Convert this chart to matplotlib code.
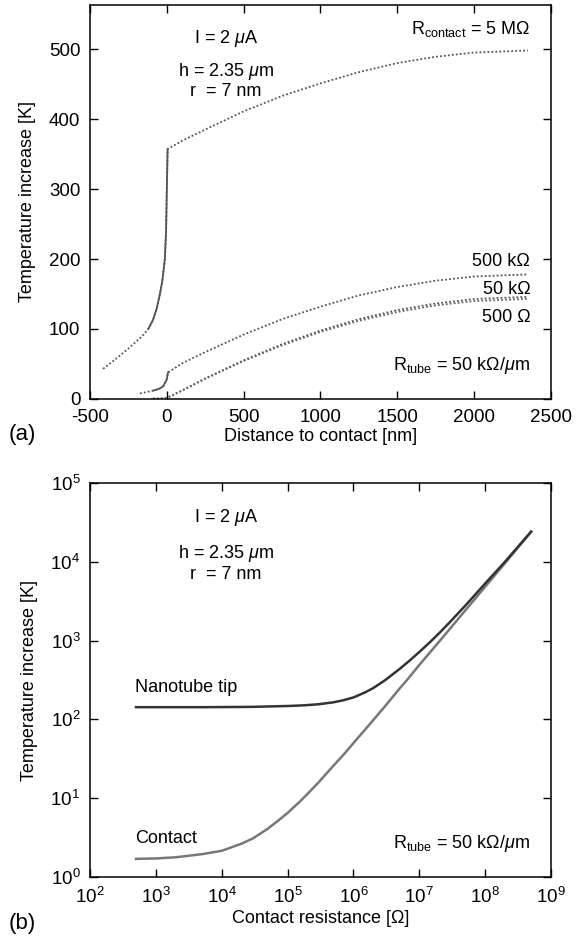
import matplotlib
matplotlib.use("Agg")
import matplotlib.pyplot as plt
from matplotlib.ticker import LogLocator, NullLocator, MultipleLocator

plt.rcParams['font.family'] = ['Liberation Sans', 'DejaVu Sans']
plt.rcParams['mathtext.fontset'] = 'custom'
plt.rcParams['mathtext.rm'] = 'Liberation Sans'
plt.rcParams['mathtext.it'] = 'Liberation Sans:italic'
plt.rcParams['axes.unicode_minus'] = False
plt.rcParams['font.size'] = 13

# --- panel (a): temperature profile along the tube ---
x_5M = [-415, -350, -300, -250, -200, -160, -121, -90, -65, -45, -30, -13, -5, 0, 5,
        100, 250, 500, 750, 1000, 1250, 1500, 1750, 2000, 2350]
T_5M = [43, 54, 63, 72, 82, 90, 100, 113, 130, 150, 168, 200, 240, 300, 357,
        369, 385, 411, 433, 451, 467, 480, 489, 495, 498]

x_500k = [-175, -140, -89, -50, -24, -2, 8, 100, 250, 500, 750, 1000, 1250, 1500, 1750, 2000, 2350]
T_500k = [8, 9.5, 12, 14.5, 18, 27, 38, 51, 67, 92, 114, 132, 148, 160, 169, 175, 178]

x_50k = [-90, -50, -20, 0, 100, 250, 500, 750, 1000, 1250, 1500, 1750, 2000, 2350]
T_50k = [0.5, 0.7, 1, 1.5, 12.2, 29.4, 55.3, 78.3, 97.8, 114, 127, 136.5, 142.8, 146]
T_500 = [0.5, 0.7, 1, 1.5, 12, 28.8, 54.2, 76.7, 95.8, 111.7, 124.3, 133.7, 139.9, 143]

# --- panel (b): temperature vs contact resistance ---
R_contact = [5e2, 1e3, 2e3, 5e3, 1e4, 2e4, 3e4, 5e4, 7e4, 1e5, 1.5e5, 2e5, 3e5, 5e5, 7e5,
             1e6, 1.5e6, 2e6, 3e6, 5e6, 7e6, 1e7, 1.5e7, 2e7, 3e7, 5e7, 7e7,
             1e8, 2e8, 3e8, 5e8]
T_contact = [1.7, 1.72, 1.78, 1.95, 2.15, 2.65, 3.1, 4.1, 5.1, 6.5, 8.9, 11.3, 16.1, 26, 35.3,
             50, 74, 98, 146, 245, 340, 490, 730, 970, 1450, 2420, 3380,
             4820, 9600, 14400, 24000]
T_tip = [143, 143, 143, 143, 143.5, 144, 144.5, 146, 147, 148, 150, 152, 156, 165, 175,
         190, 220, 250, 313, 435, 550, 716, 980, 1240, 1760, 2780, 3800,
         5300, 10000, 14800, 24200]

fig = plt.figure(figsize=(5.86, 9.39), dpi=100)
ax1 = fig.add_axes([0.1536, 0.5751, 0.7866, 0.4196])
ax2 = fig.add_axes([0.1536, 0.066, 0.7866, 0.4196])

dot = (0, (1, 1.2))
ax1.plot(x_5M, T_5M, color='#555555', lw=1.3, ls=dot)
ax1.plot(x_5M[6:15], T_5M[6:15], color='#555555', lw=1.3)
ax1.plot(x_500k, T_500k, color='#555555', lw=1.3, ls=dot)
ax1.plot(x_500k[2:7], T_500k[2:7], color='#555555', lw=1.3)
ax1.plot(x_50k, T_50k, color='#555555', lw=1.3, ls=dot)
ax1.plot(x_50k, T_500, color='#666666', lw=1.3, ls=dot)

ax1.set_xlim(-500, 2500)
ax1.set_ylim(0, 563)
ax1.xaxis.set_major_locator(MultipleLocator(500))
ax1.yaxis.set_major_locator(MultipleLocator(100))
ax1.set_xlabel('Distance to contact [nm]', labelpad=2)
ax1.set_ylabel('Temperature increase [K]', labelpad=9)

ax1.text(0.295, 0.915, r'I = 2 $\mu$A', transform=ax1.transAxes, ha='center', va='center')
ax1.text(0.295, 0.832, r'h = 2.35 $\mu$m', transform=ax1.transAxes, ha='center', va='center')
ax1.text(0.295, 0.781, r'r  = 7 nm', transform=ax1.transAxes, ha='center', va='center')
ax1.text(0.955, 0.94, r'R$_{\rm contact}$ = 5 MΩ', transform=ax1.transAxes, ha='right', va='center')
ax1.text(0.955, 0.348, '500 kΩ', transform=ax1.transAxes, ha='right', va='center')
ax1.text(0.955, 0.279, '50 kΩ', transform=ax1.transAxes, ha='right', va='center')
ax1.text(0.955, 0.208, '500 Ω', transform=ax1.transAxes, ha='right', va='center')
ax1.text(0.955, 0.086, r'R$_{\rm tube}$ = 50 kΩ/$\mu$m', transform=ax1.transAxes, ha='right', va='center')

ax2.plot(R_contact, T_contact, color='#777777', lw=1.8)
ax2.plot(R_contact, T_tip, color='#333333', lw=1.8)
ax2.set_xscale('log')
ax2.set_yscale('log')
ax2.set_xlim(1e2, 1e9)
ax2.set_ylim(1, 1e5)
ax2.xaxis.set_major_locator(LogLocator(base=10, numticks=12))
ax2.yaxis.set_major_locator(LogLocator(base=10, numticks=12))
ax2.xaxis.set_minor_locator(NullLocator())
ax2.yaxis.set_minor_locator(NullLocator())
ax2.set_xlabel('Contact resistance [Ω]', labelpad=2)
ax2.set_ylabel('Temperature increase [K]', labelpad=9)

ax2.text(0.295, 0.912, r'I = 2 $\mu$A', transform=ax2.transAxes, ha='center', va='center')
ax2.text(0.295, 0.822, r'h = 2.35 $\mu$m', transform=ax2.transAxes, ha='center', va='center')
ax2.text(0.295, 0.769, r'r  = 7 nm', transform=ax2.transAxes, ha='center', va='center')
ax2.text(0.098, 0.48, 'Nanotube tip', transform=ax2.transAxes, ha='left', va='center')
ax2.text(0.098, 0.099, 'Contact', transform=ax2.transAxes, ha='left', va='center')
ax2.text(0.955, 0.086, r'R$_{\rm tube}$ = 50 kΩ/$\mu$m', transform=ax2.transAxes, ha='right', va='center')

for ax in (ax1, ax2):
    ax.tick_params(direction='in', top=True, right=True, length=6, width=1, labelsize=13.5)
    ax.tick_params(axis='x', pad=7)
    ax.tick_params(axis='y', pad=7)
    for s in ax.spines.values():
        s.set_linewidth(1.1)

fig.text(0.038, 0.537, '(a)', fontsize=16, ha='center', va='center')
fig.text(0.038, 0.016, '(b)', fontsize=16, ha='center', va='center')

fig.savefig('out.png', dpi=100)
